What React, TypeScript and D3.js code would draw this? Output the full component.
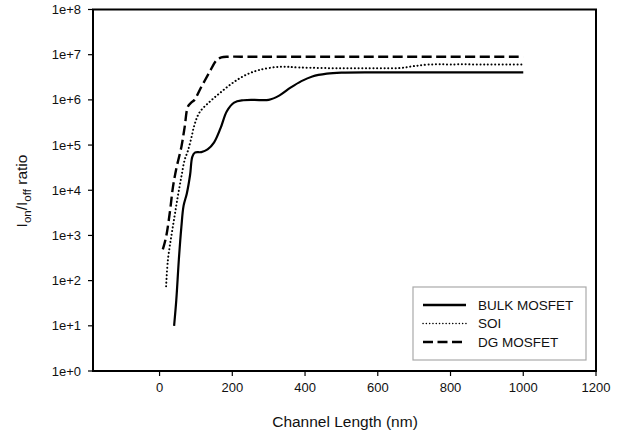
import React from "react";
import * as d3 from "d3";

const xTicks = [0, 200, 400, 600, 800, 1000, 1200];
const yTicks = [1e0, 1e1, 1e2, 1e3, 1e4, 1e5, 1e6, 1e7, 1e8];
const yTickLabels = ["1e+0", "1e+1", "1e+2", "1e+3", "1e+4", "1e+5", "1e+6", "1e+7", "1e+8"];

const bulkX = [40, 46, 53, 60, 66, 75, 84, 90, 97, 115, 132, 150, 168, 185, 205, 230, 260, 300, 330, 360, 390, 420, 460, 500, 600, 700, 800, 900, 1000];
const bulkY = [1e1, 3.7e1, 2.9e2, 1.55e3, 4.5e3, 8.5e3, 2.2e4, 5.5e4, 6.8e4, 7.0e4, 8.0e4, 1.15e5, 2.4e5, 5.6e5, 8.7e5, 9.8e5, 1.0e6, 1.0e6, 1.26e6, 1.86e6, 2.6e6, 3.3e6, 3.8e6, 4.0e6, 4.05e6, 4.05e6, 4.05e6, 4.05e6, 4.05e6];

const soiX = [18, 23, 32, 41, 50, 60, 69, 78, 87, 96, 110, 138, 165, 192, 220, 248, 275, 330, 385, 500, 600, 660, 700, 740, 800, 900, 1000];
const soiY = [7.5e1, 2.9e2, 9.3e2, 2.6e3, 7.2e3, 2.0e4, 4.7e4, 7.5e4, 1.4e5, 2.8e5, 5.3e5, 9.1e5, 1.4e6, 2.1e6, 3.0e6, 3.9e6, 4.6e6, 5.4e6, 5.2e6, 5.0e6, 5.0e6, 5.05e6, 5.6e6, 6.05e6, 6.1e6, 6.1e6, 6.1e6];

const dgX = [9, 18, 29, 37, 46, 60, 69, 78, 87, 96, 115, 138, 156, 170, 190, 250, 400, 600, 800, 1000];
const dgY = [4.9e2, 9.3e2, 3.6e3, 1.2e4, 3.0e4, 9.1e4, 2.5e5, 7.1e5, 8.7e5, 1.0e6, 1.95e6, 4.2e6, 7.4e6, 8.7e6, 9.0e6, 9.0e6, 9.0e6, 9.0e6, 9.0e6, 9.0e6];

const seriesNames = ["BULK MOSFET", "SOI", "DG MOSFET"];

const W = 634;
const H = 434;
const left = 93;
const right = 596;
const top = 9.5;
const bottom = 371;

const FONT = "Liberation Sans, Arial, sans-serif";

export default function App() {
  const x = d3.scaleLinear().domain([-183, 1200]).range([left, right]);
  const y = d3.scaleLog().domain([1e0, 1e8]).range([bottom, top]);

  const line = d3
    .line<[number, number]>()
    .x((d) => x(d[0]))
    .y((d) => y(d[1]))
    .curve(d3.curveCatmullRom.alpha(0.5));

  const zip = (xs: number[], ys: number[]) => xs.map((v, i) => [v, ys[i]] as [number, number]);

  const styles = [
    { dash: undefined as string | undefined, width: 2.2, cap: "butt" },
    { dash: "0.1,3.6", width: 2.0, cap: "round" },
    { dash: "10,4.5", width: 2.4, cap: "butt" },
  ];
  const data = [zip(bulkX, bulkY), zip(soiX, soiY), zip(dgX, dgY)];

  const legX = 413;
  const legY = 287;
  const legW = 173;
  const legH = 73;
  const rowY = [305, 323.5, 342];

  return (
    <svg
      width={W}
      height={H}
      style={{ position: "absolute", left: 0, top: 0, background: "#fff" }}
      fontFamily={FONT}
    >
      <rect x={0} y={0} width={W} height={H} fill="#fff" />
      <rect x={left} y={top} width={right - left} height={bottom - top} fill="none" stroke="#000" strokeWidth={2} />
      {yTicks.map((t, i) => (
        <g key={"y" + i}>
          <line x1={left - 5} x2={left} y1={y(t)} y2={y(t)} stroke="#000" strokeWidth={1.2} />
          <text x={81} y={y(t)} dy="0.35em" textAnchor="end" fontSize={13} fill="#111">
            {yTickLabels[i]}
          </text>
        </g>
      ))}
      {xTicks.map((t, i) => (
        <g key={"x" + i}>
          <line x1={x(t)} x2={x(t)} y1={bottom} y2={bottom + 5} stroke="#000" strokeWidth={1.2} />
          <text x={x(t)} y={392} textAnchor="middle" fontSize={13} fill="#111">
            {t}
          </text>
        </g>
      ))}
      <text x={345} y={427} textAnchor="middle" fontSize={15.5} fill="#111">
        Channel Length (nm)
      </text>
      <text transform="translate(27,191) rotate(-90)" textAnchor="middle" fontSize={15.5} fill="#111">
        I<tspan fontSize={11.5} dy={4}>on</tspan>
        <tspan dy={-4}>/I</tspan>
        <tspan fontSize={11.5} dy={4}>off</tspan>
        <tspan dy={-4}> ratio</tspan>
      </text>
      <g>
        {data.map((d, i) => (
          <path
            key={"s" + i}
            d={line(d) || ""}
            fill="none"
            stroke="#000"
            strokeWidth={styles[i].width}
            strokeDasharray={styles[i].dash}
            strokeLinecap={styles[i].cap as any}
            strokeLinejoin="round"
          />
        ))}
      </g>
      <rect x={legX} y={legY} width={legW} height={legH} fill="#fff" stroke="#aaa" strokeWidth={1.2} />
      {seriesNames.map((n, i) => (
        <g key={"l" + i}>
          <line
            x1={423}
            x2={466}
            y1={rowY[i]}
            y2={rowY[i]}
            stroke="#000"
            strokeWidth={i === 1 ? 1.5 : 2.4}
            strokeDasharray={i === 1 ? "0.1,3.2" : i === 2 ? "10,4.5" : undefined}
            strokeLinecap={i === 1 ? "round" : "butt"}
          />
          <text x={478} y={rowY[i]} dy="0.35em" fontSize={13.5} fill="#111">
            {n}
          </text>
        </g>
      ))}
    </svg>
  );
}
